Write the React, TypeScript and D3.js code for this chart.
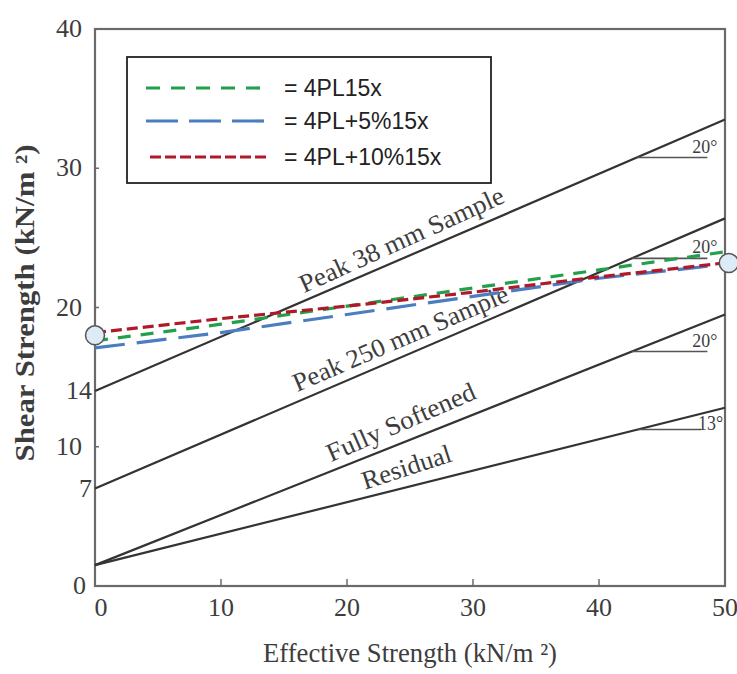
import React from 'react';
import * as d3 from 'd3';

// ---------- data ----------
const xTicks = [0, 10, 20, 30, 40, 50];
const yTicks = [0, 7, 10, 14, 20, 30, 40];

const envelopeLabels = ['Peak 38 mm Sample', 'Peak 250 mm Sample', 'Fully Softened', 'Residual'];
const envelopeX = [0, 50];
const peak38 = [14, 33.5];
const peak250 = [7, 26.4];
const fullySoftened = [1.5, 19.5];
const residual = [1.5, 12.8];
const envelopeAngles = ['20°', '20°', '20°', '13°'];

const seriesNames = ['= 4PL15x', '= 4PL+5%15x', '= 4PL+10%15x'];
const seriesX = [0, 10, 20, 30, 40, 50];
const green = [17.6, 18.8, 20.1, 21.4, 22.7, 24.0];
const blue = [17.1, 18.2, 19.5, 20.8, 22.1, 23.1];
const red = [18.2, 19.2, 20.1, 21.1, 22.2, 23.2];

const markerX = [0, 50.3];
const markerY = [18.0, 23.2];

// ---------- layout / style ----------
const W = 737;
const H = 674;
const M = { left: 95, right: 12, top: 29, bottom: 88 };
const serif = "'Liberation Serif', 'Times New Roman', serif";
const sans = "'Liberation Sans', Arial, sans-serif";
const textGray = '#3d3d3d';
const lineGray = '#333';

const seriesStyles = [
  { color: '#23a04c', dash: '13 10' },
  { color: '#4a7ec0', dash: '30 12' },
  { color: '#b01a28', dash: '11 5' },
];

export default function App() {
  const x = d3.scaleLinear().domain([0, 50]).range([M.left, W - M.right]);
  const y = d3.scaleLinear().domain([0, 40]).range([H - M.bottom, M.top]);

  const envelopes = [peak38, peak250, fullySoftened, residual];
  const seriesData = [green, blue, red];

  const line = d3
    .line<[number, number]>()
    .x((d) => x(d[0]))
    .y((d) => y(d[1]));

  // label placement relative to each envelope
  const labelAt = [24.9, 24.8, 24.9, 25.2];
  const labelOffset = [9, 9, 11, 11];
  const labelExtraAngle = [-1, 0, -2, -4];
  const labelLengths = [222, 232, 160, 93];

  // angle annotations
  const angleStart = [43.0, 42.6, 42.6, 43.1];
  const angleEnd = [48.6, 48.6, 48.6, 48.1];

  const interp = (vals: number[], xv: number) =>
    vals[0] + ((vals[1] - vals[0]) * (xv - envelopeX[0])) / (envelopeX[1] - envelopeX[0]);

  const yTickLabelEnd = (v: number) => (v === 7 || v === 14 ? 92 : v === 0 ? 86 : 82);

  const legendRowsY = [88, 121, 157];

  return (
    <svg
      width={W}
      height={H}
      style={{ position: 'absolute', left: 0, top: 0, background: '#fff' }}
      xmlns="http://www.w3.org/2000/svg"
    >
      <rect x={0} y={0} width={W} height={H} fill="#fff" />

      {/* frame */}
      <rect
        x={x(0)}
        y={y(40)}
        width={x(50) - x(0)}
        height={y(0) - y(40)}
        fill="none"
        stroke="#6a6a6a"
        strokeWidth={2.2}
      />

      {/* x ticks */}
      {xTicks.map((t) => (
        <g key={'xt' + t}>
          {t > 0 && t < 50 && (
            <line x1={x(t)} x2={x(t)} y1={y(0)} y2={y(0) - 7} stroke="#6a6a6a" strokeWidth={1.5} />
          )}
          <text
            x={x(t) + (t === 0 ? 6 : 0)}
            y={y(0) + 30}
            textAnchor="middle"
            fontFamily={serif}
            fontSize={26}
            fill={textGray}
          >
            {t}
          </text>
        </g>
      ))}

      {/* y ticks */}
      {yTicks.map((t) => (
        <g key={'yt' + t}>
          {t > 0 && t < 40 && t !== 7 && t !== 14 && (
            <line x1={x(0)} x2={x(0) + 4} y1={y(t)} y2={y(t)} stroke="#6a6a6a" strokeWidth={1.5} />
          )}
          <text
            x={yTickLabelEnd(t)}
            y={y(t) + 8}
            textAnchor="end"
            fontFamily={serif}
            fontSize={26}
            fill={textGray}
          >
            {t}
          </text>
        </g>
      ))}

      {/* axis titles */}
      <text
        x={410}
        y={662}
        textAnchor="middle"
        fontFamily={serif}
        fontSize={27}
        fill={textGray}
        textLength={294}
        lengthAdjust="spacingAndGlyphs"
      >
        Effective Strength (kN/m ²)
      </text>
      <text
        transform={`translate(34, 303) rotate(-90)`}
        textAnchor="middle"
        fontFamily={serif}
        fontSize={27}
        fontWeight="bold"
        fill={textGray}
        textLength={317}
        lengthAdjust="spacingAndGlyphs"
      >
        Shear Strength (kN/m ²)
      </text>

      {/* envelopes */}
      {envelopes.map((vals, i) => {
        const pts: [number, number][] = envelopeX.map((xv, j) => [xv, vals[j]]);
        const dx = x(envelopeX[1]) - x(envelopeX[0]);
        const dy = y(vals[1]) - y(vals[0]);
        const ang = (Math.atan2(dy, dx) * 180) / Math.PI;
        const px = x(labelAt[i]);
        const py = y(interp(vals, labelAt[i]));
        const a0 = angleStart[i];
        const a1 = angleEnd[i];
        const ay = y(interp(vals, a0));
        return (
          <g key={'env' + i}>
            <path d={line(pts) || ''} fill="none" stroke={lineGray} strokeWidth={2.2} />
            <text
              transform={`translate(${px}, ${py}) rotate(${ang + labelExtraAngle[i]})`}
              y={-labelOffset[i]}
              textAnchor="middle"
              fontFamily={serif}
              fontSize={26}
              fill={textGray}
              textLength={labelLengths[i]}
              lengthAdjust="spacingAndGlyphs"
            >
              {envelopeLabels[i]}
            </text>
            <line x1={x(a0)} x2={x(a1)} y1={ay} y2={ay} stroke="#555" strokeWidth={1.6} />
            {i < 3 ? (
              <text
                x={x(a1) + 10}
                y={ay - 5}
                textAnchor="end"
                fontFamily={serif}
                fontSize={19}
                fill={textGray}
                textLength={25}
                lengthAdjust="spacingAndGlyphs"
              >
                {envelopeAngles[i]}
              </text>
            ) : (
              <text
                x={x(a1) - 3}
                y={ay + 1}
                textAnchor="start"
                fontFamily={serif}
                fontSize={20}
                fill={textGray}
                textLength={25}
                lengthAdjust="spacingAndGlyphs"
              >
                {envelopeAngles[i]}
              </text>
            )}
          </g>
        );
      })}

      {/* dashed series: blue, green, red (red on top) */}
      {[1, 0, 2].map((si) => {
        const pts: [number, number][] = seriesX.map((xv, j) => [xv, seriesData[si][j]]);
        return (
          <path
            key={'s' + si}
            d={line(pts) || ''}
            fill="none"
            stroke={seriesStyles[si].color}
            strokeWidth={3.2}
            strokeDasharray={seriesStyles[si].dash}
          />
        );
      })}

      {/* end markers */}
      {markerX.map((mx, i) => (
        <circle
          key={'m' + i}
          cx={x(mx)}
          cy={y(markerY[i])}
          r={9.5}
          fill="#dcebf5"
          stroke="#555"
          strokeWidth={1.5}
        />
      ))}

      {/* legend */}
      <rect x={127} y={57} width={364} height={126} fill="#fff" stroke="#222" strokeWidth={1.8} />
      {seriesNames.map((name, i) => (
        <g key={'lg' + i}>
          <line
            x1={i === 2 ? 150 : 146}
            x2={270}
            y1={legendRowsY[i]}
            y2={legendRowsY[i]}
            stroke={seriesStyles[i].color}
            strokeWidth={3.2}
            strokeDasharray={i === 0 ? '14 11' : i === 1 ? '32 11' : '11 4'}
          />
          <text x={284} y={legendRowsY[i] + 8} fontFamily={sans} fontSize={23} fill="#222">
            {name}
          </text>
        </g>
      ))}
    </svg>
  );
}
